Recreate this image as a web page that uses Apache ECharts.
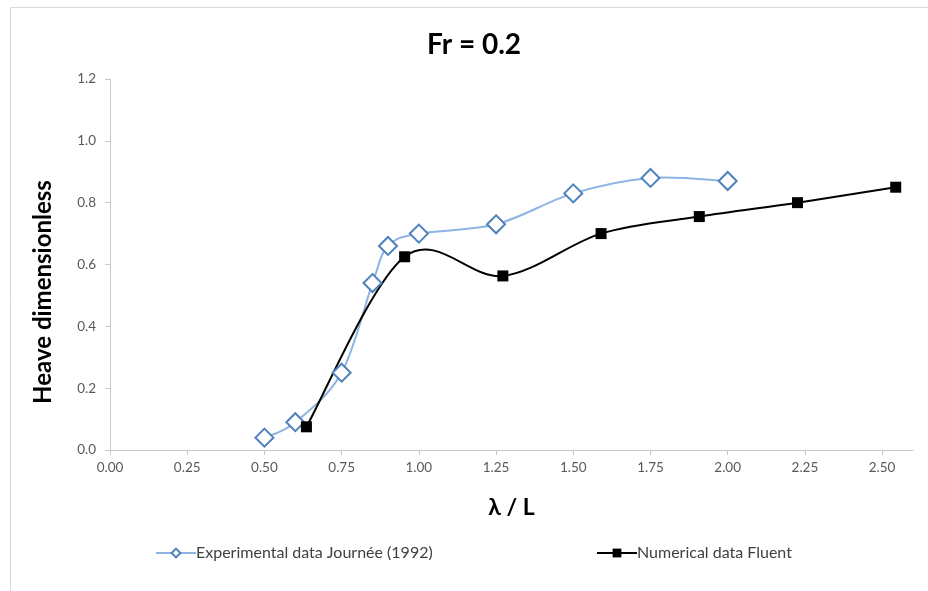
<!DOCTYPE html>
<html>
<head>
<meta charset="utf-8">
<script src="https://cdn.jsdelivr.net/npm/echarts@6/dist/echarts.min.js"></script>
<style>
  html, body { margin: 0; padding: 0; background: #fff; }
  #chart { width: 928px; height: 591px; }
</style>
</head>
<body>
<div id="chart"></div>
<script>
// Experimental heave (Journée 1992)
const expLambda = [0.50, 0.60, 0.75, 0.85, 0.90, 1.00, 1.25, 1.50, 1.75, 2.00];
const expHeave  = [0.04, 0.09, 0.25, 0.54, 0.66, 0.70, 0.73, 0.83, 0.88, 0.87];

// Numerical heave (Fluent)
const numLambda = [0.636, 0.954, 1.272, 1.590, 1.908, 2.226, 2.544];
const numHeave  = [0.075, 0.625, 0.563, 0.70, 0.755, 0.80, 0.85];

const xTicks = [0, 0.25, 0.5, 0.75, 1.0, 1.25, 1.5, 1.75, 2.0, 2.25, 2.5];

const EXP_NAME = 'Experimental data Journée (1992)';
const NUM_NAME = 'Numerical data Fluent';
const EXP_LINE = '#8db4e2';
const EXP_MARK = '#4f81bd';

const FONT = 'Lato, "Liberation Sans", sans-serif';

const zip = (xs, ys) => xs.map((x, i) => [x, ys[i]]);

// Smooth curve through the points (cubic Bezier, Catmull-Rom tangents),
// positioned with the chart's own coordinate system.
function smoothCurve(xs, ys, color) {
  return function (params, api) {
    const p = xs.map((x, i) => api.coord([x, ys[i]]));
    const n = p.length;
    const at = i => p[Math.max(0, Math.min(n - 1, i))];
    let d = 'M' + p[0][0] + ' ' + p[0][1];
    for (let i = 0; i < n - 1; i++) {
      const p0 = at(i - 1), p1 = at(i), p2 = at(i + 1), p3 = at(i + 2);
      const c1 = [p1[0] + (p2[0] - p0[0]) / 6, p1[1] + (p2[1] - p0[1]) / 6];
      const c2 = [p2[0] - (p3[0] - p1[0]) / 6, p2[1] - (p3[1] - p1[1]) / 6];
      d += ' C' + c1[0] + ' ' + c1[1] + ' ' + c2[0] + ' ' + c2[1] + ' ' + p2[0] + ' ' + p2[1];
    }
    return {
      type: 'path',
      shape: { pathData: d },
      style: { stroke: color, lineWidth: 2, fill: null, lineJoin: 'round' }
    };
  };
}

const legendText = { fontFamily: FONT, fontSize: 16, color: '#404040', padding: [0, 0, 0, -5] };

const chart = echarts.init(document.getElementById('chart'), null, { renderer: 'canvas' });

chart.setOption({
  backgroundColor: '#ffffff',
  animation: false,
  graphic: [
    {
      type: 'polyline',
      shape: { points: [[10.5, 591], [10.5, 7.5], [928, 7.5]] },
      style: { stroke: '#d9d9d9', lineWidth: 1, fill: null },
      silent: true
    },
    {
      type: 'text',
      x: 43, y: 292,
      rotation: Math.PI / 2,
      style: {
        text: 'Heave dimensionless',
        fontFamily: FONT, fontSize: 24, fontWeight: 'bold', fill: '#000',
        align: 'center', verticalAlign: 'middle'
      },
      silent: true
    },
    {
      type: 'text',
      x: 474, y: 45,
      style: {
        text: 'Fr = 0.2',
        fontFamily: FONT, fontSize: 28, fontWeight: 'bold', fill: '#000',
        align: 'center', verticalAlign: 'middle'
      },
      silent: true
    }
  ],
  grid: { left: 110, right: 15, top: 79, bottom: 141, containLabel: false },
  xAxis: {
    type: 'value',
    min: 0,
    max: 2.6,
    interval: 0.25,
    name: 'λ / L',
    nameLocation: 'middle',
    nameGap: 46,
    nameTextStyle: { fontFamily: FONT, fontSize: 23, fontWeight: 'bold', color: '#000' },
    splitLine: { show: false },
    axisLine: { show: true, lineStyle: { color: '#c8c8c8', width: 1 } },
    axisTick: { show: true, length: 5, lineStyle: { color: '#c8c8c8' }, customValues: xTicks },
    axisLabel: {
      customValues: xTicks,
      margin: 11,
      fontFamily: FONT, fontSize: 13.5, color: '#595959',
      formatter: v => v.toFixed(2)
    }
  },
  yAxis: {
    type: 'value',
    min: 0,
    max: 1.2,
    interval: 0.2,
    splitLine: { show: false },
    axisLine: { show: true, lineStyle: { color: '#c8c8c8', width: 1 } },
    axisTick: { show: true, length: 5, lineStyle: { color: '#c8c8c8' } },
    axisLabel: {
      margin: 14,
      fontFamily: FONT, fontSize: 13.5, color: '#595959',
      formatter: v => v.toFixed(1)
    }
  },
  legend: [
    {
      top: 540,
      left: 150,
      itemWidth: 40,
      itemHeight: 11,
      textStyle: legendText,
      data: [{
        name: EXP_NAME,
        lineStyle: { color: EXP_LINE, width: 2, opacity: 1 },
        itemStyle: { color: '#ffffff', borderColor: EXP_MARK, borderWidth: 2 }
      }]
    },
    {
      top: 540,
      left: 591,
      itemWidth: 40,
      itemHeight: 11,
      textStyle: legendText,
      data: [{
        name: NUM_NAME,
        lineStyle: { color: '#000000', width: 2, opacity: 1 },
        itemStyle: { color: '#000000', borderWidth: 0 }
      }]
    }
  ],
  series: [
    {
      name: EXP_NAME,
      type: 'line',
      data: zip(expLambda, expHeave),
      symbol: 'diamond',
      symbolSize: 18,
      showAllSymbol: true,
      lineStyle: { color: EXP_LINE, width: 2, opacity: 0 },
      itemStyle: { color: '#ffffff', borderColor: EXP_MARK, borderWidth: 2 },
      z: 3
    },
    {
      name: NUM_NAME,
      type: 'line',
      data: zip(numLambda, numHeave),
      symbol: 'rect',
      symbolSize: 11,
      showAllSymbol: true,
      lineStyle: { color: '#000000', width: 2, opacity: 0 },
      itemStyle: { color: '#000000', borderWidth: 0 },
      z: 4
    },
    {
      name: EXP_NAME,
      type: 'custom',
      renderItem: smoothCurve(expLambda, expHeave, EXP_LINE),
      data: [[expLambda[0], expHeave[0]]],
      silent: true,
      z: 1
    },
    {
      name: NUM_NAME,
      type: 'custom',
      renderItem: smoothCurve(numLambda, numHeave, '#000000'),
      data: [[numLambda[0], numHeave[0]]],
      silent: true,
      z: 2
    }
  ]
});
</script>
</body>
</html>
